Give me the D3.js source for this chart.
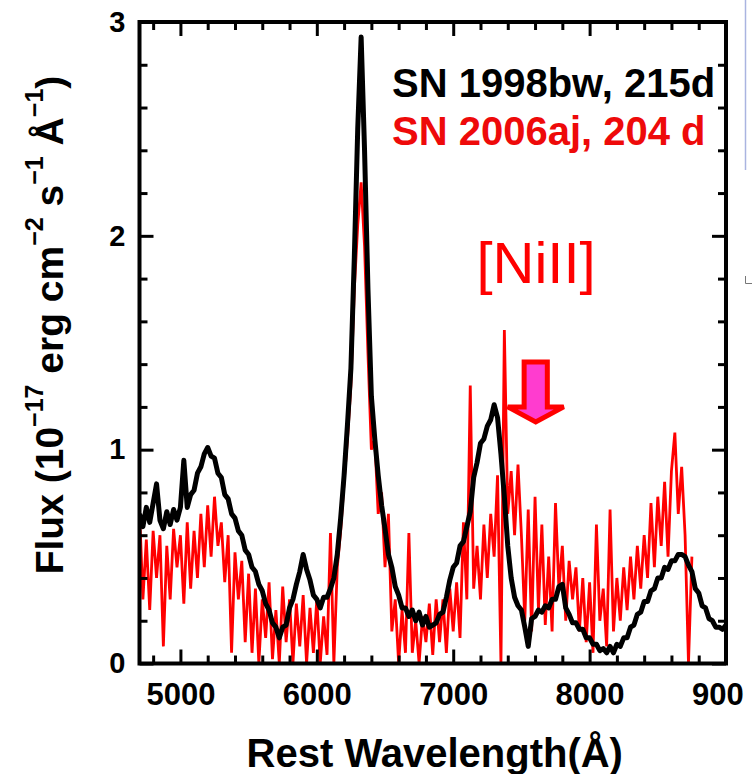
<!DOCTYPE html>
<html>
<head>
<meta charset="utf-8">
<script src="https://cdn.jsdelivr.net/npm/d3@7"></script>
<style>
  body { margin: 0; background: #fff; }
  svg { display: block; font-family: "Liberation Sans", Arial, sans-serif; }
  text { white-space: pre; }
</style>
</head>
<body>
<svg width="752" height="774"></svg>
<script>
// wavelength grid of both spectra (Å)
const waveStart = 4700, waveStep = 25;

// SN 1998bw, 215d : 4700 - 9000 Å, one row = 200 Å
const flux1998bw = [
  0.70,0.64,0.73,0.66,0.75,0.84,0.67,0.63,
  0.71,0.65,0.72,0.67,0.73,0.95,0.73,0.79,
  0.81,0.89,0.92,0.98,1.01,0.97,0.96,0.89,
  0.87,0.79,0.77,0.70,0.68,0.62,0.60,0.53,
  0.51,0.45,0.43,0.37,0.34,0.28,0.25,0.19,
  0.17,0.12,0.17,0.18,0.26,0.30,0.37,0.43,
  0.51,0.44,0.39,0.32,0.30,0.26,0.31,0.31,
  0.35,0.40,0.51,0.68,0.88,1.12,1.38,1.90,
  2.50,2.93,2.40,1.75,1.25,1.05,0.88,0.74,
  0.63,0.51,0.45,0.36,0.32,0.26,0.26,0.22,
  0.25,0.20,0.24,0.18,0.22,0.17,0.18,0.19,
  0.23,0.24,0.31,0.39,0.45,0.47,0.55,0.57,
  0.64,0.71,0.87,0.94,1.03,1.05,1.11,1.14,
  1.21,1.15,0.98,0.78,0.55,0.40,0.31,0.27,
  0.25,0.17,0.08,0.21,0.22,0.25,0.24,0.27,
  0.26,0.30,0.30,0.36,0.37,0.26,0.23,0.19,
  0.19,0.16,0.16,0.12,0.12,0.09,0.09,0.06,
  0.07,0.05,0.08,0.05,0.09,0.08,0.12,0.12,
  0.17,0.18,0.23,0.24,0.29,0.29,0.34,0.35,
  0.40,0.40,0.45,0.44,0.48,0.48,0.51,0.51,
  0.50,0.46,0.43,0.35,0.33,0.27,0.26,0.21,
  0.20,0.17,0.17,0.16,0.18
];

// SN 2006aj, 204 d : 4700 - 8750 Å (noisy)
const flux2006aj = [
  0.72,0.30,0.58,0.25,0.62,0.40,0.60,0.08,
  0.55,0.30,0.63,0.45,0.60,0.28,0.66,0.35,
  0.62,0.40,0.70,0.45,0.74,0.50,0.78,0.55,
  0.66,0.38,0.60,0.05,0.52,0.30,0.48,0.10,
  0.42,0.05,0.35,0.00,0.30,0.12,0.38,0.02,
  0.25,0.00,0.36,0.10,0.30,0.00,0.28,0.08,
  0.32,0.00,0.26,0.05,0.30,0.00,0.22,0.04,
  0.61,0.00,0.45,0.62,0.85,1.05,1.30,1.75,
  2.05,2.25,1.95,1.45,1.00,1.05,0.70,0.80,
  0.45,0.70,0.15,0.30,0.00,0.25,0.05,0.61,
  0.05,0.20,0.00,0.22,0.10,0.28,0.04,0.30,
  0.10,0.30,0.05,0.35,0.15,0.38,0.12,0.66,
  0.30,1.30,0.35,0.55,0.30,0.65,0.40,0.70,
  0.50,0.88,0.00,1.56,0.70,0.90,0.60,0.93,
  0.60,0.20,0.72,0.15,0.78,0.25,0.65,0.18,
  0.50,0.15,0.75,0.35,0.55,0.20,0.48,0.30,
  0.45,0.15,0.40,0.10,0.38,0.05,0.65,0.20,
  0.35,0.08,0.72,0.15,0.40,0.20,0.45,0.25,
  0.50,0.30,0.55,0.35,0.60,0.40,0.75,0.45,
  0.78,0.55,0.85,0.50,0.90,1.08,0.70,0.92,
  0.60,0.00,0.50
];

const xTicksMajor = [5000, 6000, 7000, 8000, 9000];
const yTicksMajor = [0, 1, 2, 3];
const legendLabels = ["SN 1998bw, 215d", "SN 2006aj, 204 d"];
const seriesColors = ["#000000", "#ff0000"];

// [NiII] annotation: label anchor and arrow in data units (Å, flux)
const niLabel = { text: "[NiII]", wave: 7170, flux: 1.78 };
const niArrow = { wave: 7605, top: 1.41, headBase: 1.20, tip: 1.13,
                  shaftHalf: 85, headHalf: 205 };

const svg = d3.select("svg");
const margin = { top: 22, left: 139.5 },
      width = 726 - margin.left,
      height = 663.5 - margin.top;

// everything right of x=744 is cut off in the original slide crop
svg.append("defs").append("clipPath").attr("id", "page")
  .append("rect").attr("width", 744).attr("height", 774);
svg.select("defs").append("clipPath").attr("id", "plot")
  .append("rect").attr("width", width).attr("height", height);

const page = svg.append("g").attr("clip-path", "url(#page)");
const g = page.append("g").attr("transform", `translate(${margin.left},${margin.top})`);

const x = d3.scaleLinear().domain([4700, 9000]).range([0, width]);
const y = d3.scaleLinear().domain([0, 3]).range([height, 0]);

const toPoints = arr => arr.map((f, i) => ({ w: waveStart + i * waveStep, f }));
const line = d3.line().x(d => x(d.w)).y(d => y(d.f));

const plot = g.append("g").attr("clip-path", "url(#plot)");

// red first, black on top
plot.append("path")
  .datum(toPoints(flux2006aj))
  .attr("d", line)
  .attr("fill", "none")
  .attr("stroke", seriesColors[1])
  .attr("stroke-width", 2.8)
  .attr("stroke-linejoin", "miter")
  .attr("stroke-miterlimit", 2);

plot.append("path")
  .datum(toPoints(flux1998bw))
  .attr("d", line)
  .attr("fill", "none")
  .attr("stroke", seriesColors[0])
  .attr("stroke-width", 5)
  .attr("stroke-linejoin", "round");

// minor ticks
const xMinor = d3.range(4800, 9000, 200).filter(v => v % 1000 !== 0);
const yMinor = d3.range(1, 15).map(i => i * 0.2).filter(v => Math.abs(v - Math.round(v)) > 0.01);

function styleAxis(sel) {
  sel.select(".domain").remove();
  sel.selectAll(".tick line").attr("stroke", "#000").attr("stroke-width", 3);
  sel.selectAll(".tick text")
    .attr("fill", "#000")
    .style("font-weight", "bold");
}

// bottom
g.append("g").attr("transform", `translate(0,${height})`)
  .call(d3.axisBottom(x).tickValues(xTicksMajor).tickSizeInner(-14).tickSizeOuter(0).tickPadding(19).tickFormat(d3.format("d")))
  .call(styleAxis)
  .selectAll("text").style("font-size", "31px");
g.append("g").attr("transform", `translate(0,${height})`)
  .call(d3.axisBottom(x).tickValues(xMinor).tickSizeInner(-8).tickSizeOuter(0).tickFormat(""))
  .call(styleAxis);
// top
g.append("g")
  .call(d3.axisTop(x).tickValues(xTicksMajor).tickSizeInner(-14).tickSizeOuter(0).tickFormat(""))
  .call(styleAxis);
g.append("g")
  .call(d3.axisTop(x).tickValues(xMinor).tickSizeInner(-8).tickSizeOuter(0).tickFormat(""))
  .call(styleAxis);
// left
g.append("g")
  .call(d3.axisLeft(y).tickValues(yTicksMajor).tickSizeInner(-14).tickSizeOuter(0).tickPadding(14).tickFormat(d3.format("d")))
  .call(styleAxis)
  .selectAll("text").style("font-size", "29px");
g.append("g")
  .call(d3.axisLeft(y).tickValues(yMinor).tickSizeInner(-8).tickSizeOuter(0).tickFormat(""))
  .call(styleAxis);
// right
g.append("g").attr("transform", `translate(${width},0)`)
  .call(d3.axisRight(y).tickValues(yTicksMajor).tickSizeInner(-14).tickSizeOuter(0).tickFormat(""))
  .call(styleAxis);
g.append("g").attr("transform", `translate(${width},0)`)
  .call(d3.axisRight(y).tickValues(yMinor).tickSizeInner(-8).tickSizeOuter(0).tickFormat(""))
  .call(styleAxis);

// frame
g.append("rect")
  .attr("width", width).attr("height", height)
  .attr("fill", "none").attr("stroke", "#000").attr("stroke-width", 4);

// axis titles
g.append("text")
  .attr("x", width / 2 + 2)
  .attr("y", 767 - margin.top)
  .attr("text-anchor", "middle")
  .style("font-size", "40px")
  .style("font-weight", "bold")
  .text("Rest Wavelength(Å)");

const yTitle = g.append("text")
  .attr("transform", `translate(${63 - margin.left},${325 - margin.top}) rotate(-90)`)
  .attr("text-anchor", "middle")
  .style("font-size", "39px")
  .style("font-weight", "bold");
const titleParts = [["Flux (10", false], ["−17", true], [" erg cm", false], ["−2", true],
                    [" s", false], ["−1", true], [" Å", false], ["−1", true], [")", false]];
let raised = false;
titleParts.forEach(([t, sup]) => {
  const ts = yTitle.append("tspan").text(t);
  if (sup && !raised) { ts.attr("dy", -20).style("font-size", "25px"); raised = true; }
  else if (sup) ts.style("font-size", "25px");
  else if (raised) { ts.attr("dy", 20); raised = false; }
});

// legend
legendLabels.forEach((lab, i) => {
  g.append("text")
    .attr("x", 392 - margin.left)
    .attr("y", 97 - margin.top + i * 48)
    .attr("fill", i === 0 ? seriesColors[0] : "#ee0a0a")
    .style("font-size", "40px")
    .style("font-weight", "bold")
    .text(lab);
});

// [NiII] label and arrow
g.append("text")
  .attr("x", x(niLabel.wave))
  .attr("y", y(niLabel.flux))
  .attr("fill", "#ff0000")
  .style("font-size", "58px")
  .text(niLabel.text);

const a = niArrow;
const arrowPts = [
  [a.wave - a.shaftHalf, a.top], [a.wave + a.shaftHalf, a.top],
  [a.wave + a.shaftHalf, a.headBase], [a.wave + a.headHalf, a.headBase],
  [a.wave, a.tip],
  [a.wave - a.headHalf, a.headBase], [a.wave - a.shaftHalf, a.headBase]
];
g.append("polygon")
  .attr("points", arrowPts.map(p => [x(p[0]), y(p[1])].join(",")).join(" "))
  .attr("fill", "#ff3ccf")
  .attr("stroke", "#ff0000")
  .attr("stroke-width", 5)
  .attr("stroke-linejoin", "miter");

// remnants of the neighbouring slide at the right edge
svg.append("line")
  .attr("x1", 745.5).attr("x2", 745.5).attr("y1", 0).attr("y2", 170)
  .attr("stroke", "#aab4e0").attr("stroke-width", 1.5);
svg.append("path")
  .attr("d", "M745.5,276V283.5H752")
  .attr("fill", "none").attr("stroke", "#777").attr("stroke-width", 1);
</script>
</body>
</html>
